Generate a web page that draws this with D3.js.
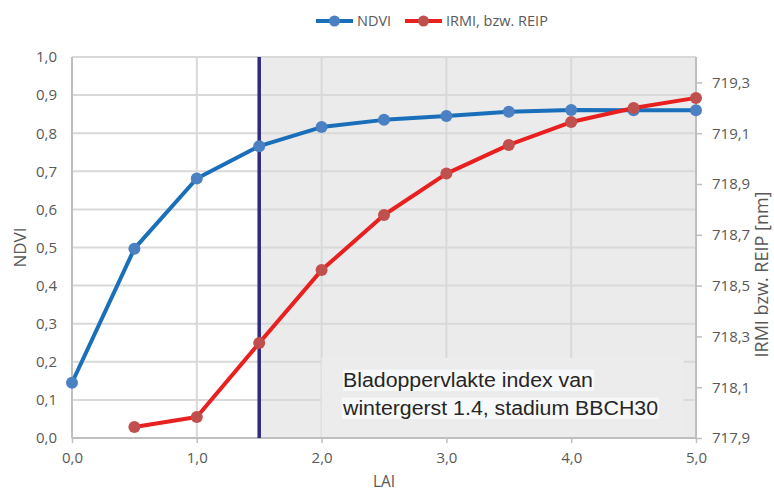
<!DOCTYPE html>
<html>
<head>
<meta charset="utf-8">
<script src="https://cdn.jsdelivr.net/npm/d3@7"></script>
<style>
  body { margin: 0; background: #fff; }
  svg { display: block; }
</style>
</head>
<body>
<svg id="chart"></svg>
<script>
// data
var lai = [0, 0.5, 1.0, 1.5, 2.0, 2.5, 3.0, 3.5, 4.0, 4.5, 5.0];
var ndvi = [0.145, 0.497, 0.681, 0.766, 0.816, 0.835, 0.845, 0.856, 0.861, 0.86, 0.86];
var reipLai = [0.5, 1.0, 1.5, 2.0, 2.5, 3.0, 3.5, 4.0, 4.5, 5.0];
var reip = [717.943, 717.983, 718.274, 718.561, 718.778, 718.941, 719.054, 719.144, 719.199, 719.239];
var xTicks = [0, 1, 2, 3, 4, 5];
var leftTicks = [0, 0.1, 0.2, 0.3, 0.4, 0.5, 0.6, 0.7, 0.8, 0.9, 1.0];
var rightTicks = [717.9, 718.1, 718.3, 718.5, 718.7, 718.9, 719.1, 719.3];
var markerLai = 1.5;
var noteLines = ["Bladoppervlakte index van", "wintergerst 1.4, stadium BBCH30"];

var dimensions = {
    width: 774,
    height: 493,
    margin: { top: 57, bottom: 55, left: 72, right: 78 }
};

var svg = d3.select("#chart")
    .attr("width", dimensions.width)
    .attr("height", dimensions.height);

// note: "top" is reserved on window, so use plot* names
var plotLeft = dimensions.margin.left,
    plotRight = dimensions.width - dimensions.margin.right,
    plotTop = dimensions.margin.top,
    plotBottom = dimensions.height - dimensions.margin.bottom;

var xScale = d3.scaleLinear().domain([0, 5]).range([plotLeft, plotRight]);
var yScale = d3.scaleLinear().domain([0, 1]).range([plotBottom, plotTop]);
var y2Scale = d3.scaleLinear().domain([717.9, 719.4]).range([plotBottom, plotTop]);

var fmt = d3.format(".1f");
var comma = d => fmt(d).replace(".", ",");
var txt = "#595959";
var font = "'Open Sans', sans-serif";

// shaded region right of the marker line
svg.append("rect")
    .attr("x", xScale(markerLai))
    .attr("y", plotTop)
    .attr("width", xScale(5) - xScale(markerLai))
    .attr("height", plotBottom - plotTop)
    .attr("fill", "#ebebeb");

// gridlines
svg.append("g")
    .selectAll("line")
    .data(leftTicks.slice(1))
    .enter()
    .append("line")
    .attr("x1", plotLeft).attr("x2", plotRight)
    .attr("y1", d => yScale(d)).attr("y2", d => yScale(d))
    .attr("stroke", "#d9d9d9")
    .attr("stroke-width", 2);

svg.append("g")
    .selectAll("line")
    .data(xTicks.slice(1, -1))
    .enter()
    .append("line")
    .attr("x1", d => xScale(d)).attr("x2", d => xScale(d))
    .attr("y1", plotTop).attr("y2", plotBottom)
    .attr("stroke", "#d9d9d9")
    .attr("stroke-width", 2);

// annotation box (covers gridlines)
svg.append("rect")
    .attr("x", xScale(2.0))
    .attr("y", yScale(0.21))
    .attr("width", xScale(4.9) - xScale(2.0))
    .attr("height", plotBottom - yScale(0.21))
    .attr("fill", "#ececec");

// axes
var xAxis = svg.append("g")
    .attr("transform", `translate(0,${plotBottom})`)
    .call(d3.axisBottom(xScale).tickValues(xTicks).tickFormat(comma).tickSize(5).tickPadding(9));

var yAxis = svg.append("g")
    .attr("transform", `translate(${plotLeft},0)`)
    .call(d3.axisLeft(yScale).tickValues(leftTicks).tickFormat(comma).tickSize(0).tickPadding(15));

var y2Axis = svg.append("g")
    .attr("transform", `translate(${plotRight},0)`)
    .call(d3.axisRight(y2Scale).tickValues(rightTicks).tickFormat(comma).tickSize(6).tickPadding(10));

[xAxis, yAxis, y2Axis].forEach(function(g) {
    g.select(".domain").attr("stroke", "#bfbfbf").attr("stroke-width", 2);
    g.selectAll(".tick line").attr("stroke", "#bfbfbf").attr("stroke-width", 1.5);
    g.selectAll("text")
        .attr("fill", txt)
        .style("font-family", font)
        .style("font-size", "15px");
});
yAxis.select(".domain").attr("d", `M0,${plotTop}V${plotBottom}`);
y2Axis.select(".domain").attr("d", `M0,${plotTop}V${plotBottom}`);
xAxis.select(".domain").attr("d", `M${plotLeft},0H${plotRight}`);

// note text with light highlight, slightly stretched like the original
var note = svg.append("g")
    .attr("transform", "translate(343,0) scale(1.066,1)");
noteLines.forEach(function(line, i) {
    var t = note.append("text")
        .attr("x", 0)
        .attr("y", 387 + i * 28)
        .style("font-family", "'Liberation Sans', Arial, sans-serif")
        .style("font-size", "20px")
        .attr("fill", "#262626")
        .text(line);
    var bb = t.node().getBBox();
    note.insert("rect", "text")
        .attr("x", bb.x)
        .attr("y", bb.y + 1)
        .attr("width", bb.width + 1)
        .attr("height", bb.height - 1)
        .attr("fill", "#f7f8fa");
});

// vertical marker line
svg.append("line")
    .attr("x1", xScale(markerLai)).attr("x2", xScale(markerLai))
    .attr("y1", plotTop).attr("y2", plotBottom)
    .attr("stroke", "#2e2a80")
    .attr("stroke-width", 3.5);

// NDVI series
var ndviData = lai.map((d, i) => ({ x: d, y: ndvi[i] }));
svg.append("path")
    .datum(ndviData)
    .attr("d", d3.line().x(d => xScale(d.x)).y(d => yScale(d.y)))
    .attr("fill", "none")
    .attr("stroke", "#1a6fba")
    .attr("stroke-width", 4)
    .attr("stroke-linejoin", "round");
svg.append("g")
    .selectAll("circle")
    .data(ndviData)
    .enter()
    .append("circle")
    .attr("cx", d => xScale(d.x))
    .attr("cy", d => yScale(d.y))
    .attr("r", 6)
    .attr("fill", "#4b80c2");

// IRMI / REIP series
var reipData = reipLai.map((d, i) => ({ x: d, y: reip[i] }));
svg.append("path")
    .datum(reipData)
    .attr("d", d3.line().x(d => xScale(d.x)).y(d => y2Scale(d.y)))
    .attr("fill", "none")
    .attr("stroke", "#e8201f")
    .attr("stroke-width", 4)
    .attr("stroke-linejoin", "round");
svg.append("g")
    .selectAll("circle")
    .data(reipData)
    .enter()
    .append("circle")
    .attr("cx", d => xScale(d.x))
    .attr("cy", d => y2Scale(d.y))
    .attr("r", 6)
    .attr("fill", "#c0504d");

// axis titles
svg.append("text")
    .attr("x", (plotLeft + plotRight) / 2)
    .attr("y", 487)
    .attr("text-anchor", "middle")
    .attr("fill", txt)
    .style("font-family", font)
    .style("font-size", "15.5px")
    .text("LAI");

svg.append("text")
    .attr("transform", `translate(26,${(plotTop + plotBottom) / 2})rotate(-90)`)
    .attr("text-anchor", "middle")
    .attr("fill", txt)
    .style("font-family", font)
    .style("font-size", "17px")
    .text("NDVI");

svg.append("text")
    .attr("transform", `translate(768,${(plotTop + plotBottom) / 2 + 27})rotate(-90)`)
    .attr("text-anchor", "middle")
    .attr("fill", txt)
    .style("font-family", font)
    .style("font-size", "18px")
    .text("IRMI bzw. REIP [nm]");

// legend
var legend = [
    { name: "NDVI", line: "#1a6fba", dot: "#4b80c2", x: 316 },
    { name: "IRMI, bzw. REIP", line: "#e8201f", dot: "#c0504d", x: 405 }
];
var lg = svg.append("g").selectAll("g").data(legend).enter().append("g")
    .attr("transform", d => `translate(${d.x},21)`);
lg.append("line")
    .attr("x1", 0).attr("x2", 37)
    .attr("stroke", d => d.line)
    .attr("stroke-width", 4);
lg.append("circle")
    .attr("cx", 18.5)
    .attr("r", 5.5)
    .attr("fill", d => d.dot);
lg.append("text")
    .attr("x", 41)
    .attr("y", 5)
    .attr("fill", txt)
    .style("font-family", font)
    .style("font-size", "14.5px")
    .text(d => d.name);
</script>
</body>
</html>
